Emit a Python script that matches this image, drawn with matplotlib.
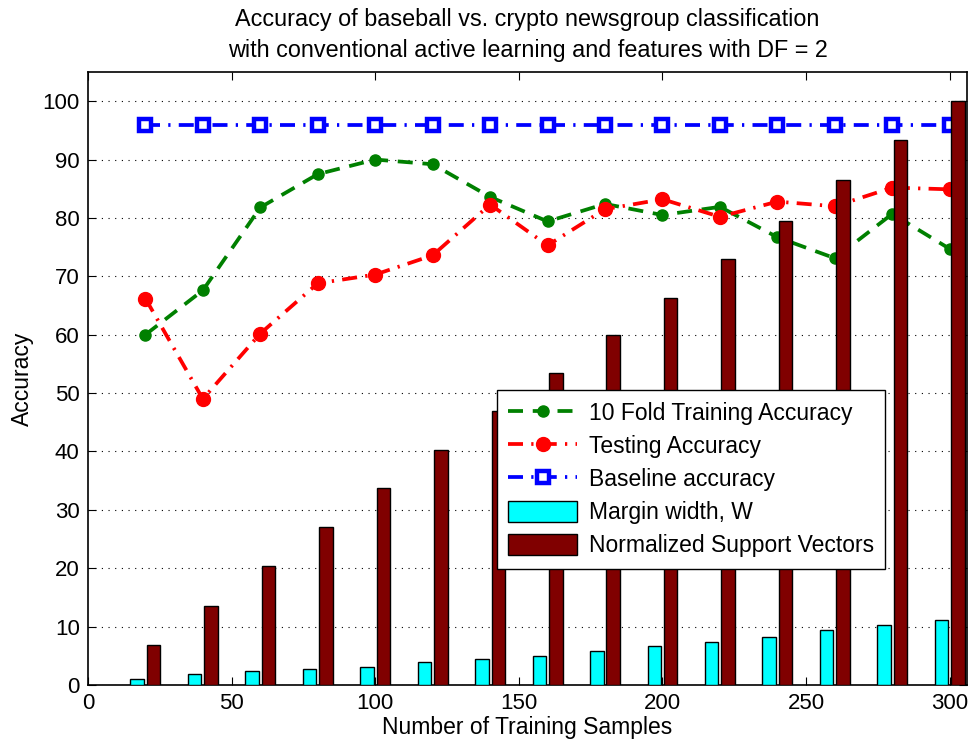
import numpy as np
import matplotlib
matplotlib.use("Agg")
import matplotlib.pyplot as plt

plt.rcParams['font.family'] = ['Liberation Sans', 'DejaVu Sans']

n_samples = [20, 40, 60, 80, 100, 120, 140, 160, 180, 200, 220, 240, 260, 280, 300]
train_acc = [60.0, 67.6, 81.8, 87.5, 90.0, 89.2, 83.6, 79.4, 82.4, 80.5, 81.9, 76.7, 73.1, 80.7, 74.7]
test_acc = [66.2, 49.0, 60.2, 68.8, 70.3, 73.6, 82.3, 75.3, 81.5, 83.2, 80.2, 82.8, 82.0, 85.2, 84.9]
baseline = [96.0] * 15
margin_w = [1.0, 1.95, 2.4, 2.75, 3.1, 4.0, 4.5, 5.0, 5.8, 6.6, 7.3, 8.3, 9.5, 10.2, 11.2]
norm_sv = [6.8, 13.5, 20.3, 27.0, 33.7, 40.3, 47.0, 53.5, 60.0, 66.3, 73.0, 79.5, 86.5, 93.3, 100.0]

fig = plt.figure(figsize=(9.73, 7.53), dpi=100)
ax = fig.add_axes([0.0904, 0.0903, 0.9034, 0.8141])

x = np.array(n_samples)
dashdot = (4.0, 2.2, 0.6, 2.2)

l1, = ax.plot(x, train_acc, color='green', lw=2.7, dashes=(4.0, 2.6),
              marker='o', ms=8, zorder=2)
l2, = ax.plot(x, test_acc, color='red', lw=2.7, dashes=dashdot,
              marker='o', ms=10, zorder=2)
l3, = ax.plot(x, baseline, color='blue', lw=2.7, dashes=dashdot, marker='s', ms=8.5,
              mfc='white', mec='blue', mew=3.2, zorder=2)

b1 = ax.bar(x - 2.85, margin_w, width=4.7, color='#00ffff', edgecolor='black', lw=1, zorder=3)
b2 = ax.bar(x + 2.85, norm_sv, width=4.7, color='#800000', edgecolor='black', lw=1, zorder=3)

ax.set_xlim(0, 306)
ax.set_ylim(0, 105)
ax.set_xticks(range(0, 301, 50))
ax.set_yticks(range(0, 101, 10))
ax.tick_params(direction='in', top=True, right=True, labelsize=16, length=6, pad=6)
ax.yaxis.grid(True, linestyle=(0, (1, 5)), color='black', lw=0.8)
ax.set_axisbelow(True)
for s in ax.spines.values():
    s.set_linewidth(1.2)

ax.set_xlabel('Number of Training Samples', fontsize=16.5, labelpad=1)
ax.set_ylabel('Accuracy', fontsize=16.5, labelpad=6)
ax.set_title('Accuracy of baseball vs. crypto newsgroup classification\n'
             'with conventional active learning and features with DF = 2',
             fontsize=16.8, pad=11, linespacing=1.45)

leg = ax.legend([l1, l2, l3, b1, b2],
                ['10 Fold Training Accuracy', 'Testing Accuracy', 'Baseline accuracy',
                 'Margin width, W', 'Normalized Support Vectors'],
                loc='upper left', bbox_to_anchor=(0.4653, 0.4812), borderaxespad=0,
                fontsize=16.5, fancybox=False, edgecolor='black', framealpha=1,
                handlelength=3.0, handleheight=1.05, handletextpad=0.5,
                labelspacing=0.42, borderpad=0.5)
leg.get_frame().set_linewidth(1.0)
leg.set_zorder(5)

fig.savefig('out.png', dpi=100)
